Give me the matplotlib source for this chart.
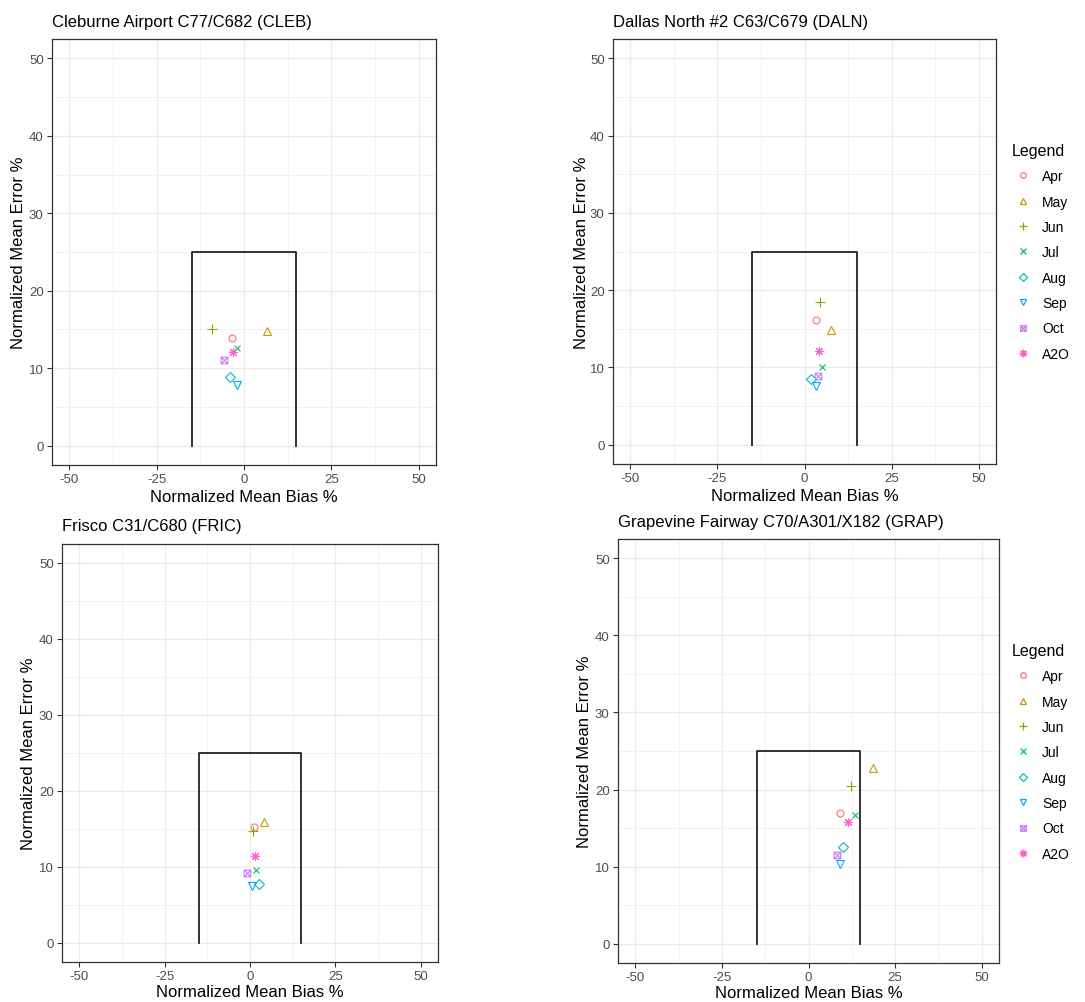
import matplotlib
matplotlib.use("Agg")
import matplotlib.pyplot as plt
from matplotlib.lines import Line2D
from matplotlib.path import Path
import numpy as np

plt.rcParams['font.family'] = ['Liberation Sans', 'DejaVu Sans']
plt.rcParams['axes.unicode_minus'] = False

months = ["Apr", "May", "Jun", "Jul", "Aug", "Sep", "Oct", "A2O"]
colors = ["#F8766D", "#CD9600", "#7CAE00", "#00BE67", "#00BFC4", "#00A9FF", "#C77CFF", "#FF61CC"]

titles = ["Cleburne Airport C77/C682 (CLEB)",
          "Dallas North #2 C63/C679 (DALN)",
          "Frisco C31/C680 (FRIC)",
          "Grapevine Fairway C70/A301/X182 (GRAP)"]

# Normalized Mean Bias % (x) and Normalized Mean Error % (y), order: Apr..Oct, A2O
cleb_nmb = [-3.5, 6.7, -9.3, -2.1, -4.0, -1.9, -5.7, -3.1]
cleb_nme = [13.9, 14.8, 15.1, 12.6, 8.9, 7.8, 11.0, 12.1]
daln_nmb = [3.2, 7.6, 4.4, 5.1, 1.9, 3.4, 3.9, 4.1]
daln_nme = [16.2, 14.9, 18.5, 10.1, 8.5, 7.6, 8.9, 12.1]
fric_nmb = [1.2, 4.1, 0.9, 1.9, 2.6, 0.7, -0.8, 1.5]
fric_nme = [15.2, 15.9, 14.7, 9.6, 7.75, 7.5, 9.2, 11.4]
grap_nmb = [9.0, 18.5, 12.2, 13.5, 10.1, 9.0, 8.2, 11.5]
grap_nme = [17.0, 22.8, 20.4, 16.7, 12.6, 10.4, 11.5, 15.8]

# goal box
box_x = [-15, -15, 15, 15]
box_y = [0, 25, 25, 0]

xticks = [-50, -25, 0, 25, 50]
yticks = [0, 10, 20, 30, 40, 50]

W, H = 1085, 1003
fig = plt.figure(figsize=(W / 100, H / 100), dpi=100)

# pixel boxes: left, top, right, bottom
boxes = [(52, 40, 436, 466), (613, 40, 996, 465), (62, 545, 438, 963), (618, 540, 999, 964)]
data = [(cleb_nmb, cleb_nme), (daln_nmb, daln_nme), (fric_nmb, fric_nme), (grap_nmb, grap_nme)]
ylabel_x = [26, 589, 36, 592]
xlabel_pad = [3, 3, 1, 1]
show_legend = [False, True, False, True]
legend_top = [None, 134, None, 634]

grey20 = "#333333"
grey30 = "#4D4D4D"
gridc = "#EBEBEB"

# square with a cross (R shape 7)
sqx = Path([(-1, -1), (1, -1), (1, 1), (-1, 1), (-1, -1), (-1, -1), (1, 1), (-1, 1), (1, -1)],
           [Path.MOVETO, Path.LINETO, Path.LINETO, Path.LINETO, Path.CLOSEPOLY,
            Path.MOVETO, Path.LINETO, Path.MOVETO, Path.LINETO])

markers = ['o', '^', '+', 'x', 'D', 'v', sqx, (8, 2, 0)]
size_f = [1.0, 1.15, 1.4, 1.0, 0.95, 1.15, 0.95, 1.3]

for k in range(4):
    l, t, r, b = boxes[k]
    ax = fig.add_axes([l / W, (H - b) / H, (r - l) / W, (b - t) / H])
    ax.set_xlim(-55, 55)
    ax.set_ylim(-2.5, 52.5)
    ax.set_xticks(xticks)
    ax.set_yticks(yticks)
    ax.set_xticks([-37.5, -12.5, 12.5, 37.5], minor=True)
    ax.set_yticks([5, 15, 25, 35, 45], minor=True)
    ax.grid(True, which='major', color=gridc, linewidth=0.9, zorder=0)
    ax.grid(True, which='minor', color=gridc, linewidth=0.45, zorder=0)
    ax.set_axisbelow(True)
    for s in ax.spines.values():
        s.set_color(grey20)
        s.set_linewidth(0.9)
    ax.tick_params(which='major', length=3.5, width=0.8, color=grey20,
                   labelcolor=grey30, labelsize=9.5, pad=2.5)
    ax.tick_params(which='minor', length=0)
    ax.plot(box_x, box_y, color='#222222', linewidth=1.3, zorder=2)
    xs, ys = data[k]
    for i in range(len(months)):
        ax.plot([xs[i]], [ys[i]], linestyle='none', marker=markers[i],
                markersize=5.0 * size_f[i], markerfacecolor='none',
                markeredgecolor=colors[i], markeredgewidth=0.8, zorder=3)
    ax.set_xlabel("Normalized Mean Bias %", fontsize=12, color='black', labelpad=xlabel_pad[k])
    ax.set_ylabel("Normalized Mean Error %", fontsize=12, color='black')
    ax.yaxis.set_label_coords(((ylabel_x[k] - l) / (r - l)), 0.5)
    fig.text(l / W, (H - (t - 18)) / H, titles[k], fontsize=12, ha='left', va='center')

    if show_legend[k]:
        handles = []
        msz = [4, 5, 6, 4.5, 4.5, 5, 4, 5.5]
        for i in range(len(months)):
            handles.append(Line2D([], [], linestyle='none', marker=markers[i], markersize=msz[i],
                                  markerfacecolor='none', markeredgecolor=colors[i],
                                  markeredgewidth=0.9, color=colors[i]))
        lg = fig.legend(handles, months, title="Legend", loc='upper left',
                        bbox_to_anchor=(1002 / W, (H - legend_top[k]) / H),
                        frameon=False, fontsize=10, title_fontsize=11.5,
                        labelspacing=0.82, handletextpad=0.6, handlelength=1.6,
                        borderpad=0.2)
        lg._legend_box.align = "left"

fig.savefig("out.png", dpi=100)
